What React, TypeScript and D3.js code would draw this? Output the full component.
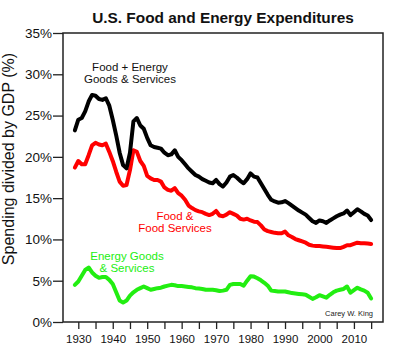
import { useEffect, useRef } from 'react';
import * as d3 from 'd3';

// ==========================================
// DATA (share of GDP, %)
// ==========================================
const years = d3.range(1929, 2016);

const foodEnergy = [
  23.2, 24.5, 24.7, 25.5, 26.7, 27.5, 27.4, 27.0, 26.9, 27.1,
  26.2, 24.5, 22.6, 20.5, 19.0, 18.6, 20.5, 24.3, 24.7, 23.8,
  23.4, 22.3, 21.4, 21.2, 21.1, 21.0, 20.5, 20.2, 20.3, 20.8,
  20.0, 19.6, 19.1, 18.6, 18.2, 17.8, 17.6, 17.3, 17.1, 16.9,
  16.8, 17.2, 16.7, 16.4, 16.9, 17.6, 17.8, 17.5, 17.1, 16.8,
  17.3, 18.0, 17.6, 17.5, 16.8, 16.1, 15.4, 14.8, 14.6, 14.45,
  14.5, 14.65, 14.4, 14.1, 13.8, 13.5, 13.25, 13.0, 12.6, 12.2,
  12.0, 12.3, 12.2, 12.0, 12.3, 12.55, 12.8, 13.0, 13.15, 13.5,
  12.95, 13.3, 13.65, 13.4, 13.1, 12.9, 12.35,
];

const food = [
  18.7, 19.5, 19.1, 19.1, 20.2, 21.4, 21.7, 21.5, 21.4, 21.6,
  20.6, 19.5, 18.2, 17.0, 16.5, 16.6, 18.4, 20.8, 20.6, 19.5,
  18.9, 17.7, 17.4, 17.2, 17.2, 17.0, 16.3, 16.0, 15.9, 16.2,
  15.6, 15.3, 14.8, 14.1, 13.8, 13.55, 13.4, 13.3, 13.1, 12.95,
  13.1, 13.45, 12.9, 12.8, 13.0, 13.3, 13.1, 12.9, 12.5, 12.4,
  12.5, 12.3, 12.15, 12.1, 11.7, 11.2, 11.0, 10.9, 10.8, 10.75,
  10.75, 10.95, 10.5, 10.3, 10.05, 9.9, 9.75, 9.6, 9.35, 9.25,
  9.2, 9.2, 9.15, 9.1, 9.05, 9.0, 8.95, 8.95, 9.1, 9.3,
  9.3, 9.45, 9.6, 9.55, 9.55, 9.5, 9.45,
];

const energy = [
  4.5, 4.9, 5.6, 6.3, 6.6, 6.0, 5.6, 5.35, 5.45, 5.45,
  5.1, 4.6, 3.6, 2.6, 2.35, 2.6, 3.2, 3.6, 3.9, 4.1,
  4.3, 4.1, 3.9, 4.0, 4.1, 4.15, 4.3, 4.4, 4.5, 4.45,
  4.35, 4.35, 4.3, 4.25, 4.2, 4.1, 4.05, 4.0, 3.9, 3.9,
  3.9, 3.85, 3.75, 3.8, 3.9, 4.5, 4.6, 4.6, 4.6, 4.4,
  5.0, 5.55, 5.5, 5.3, 5.05, 4.75, 4.4, 3.8, 3.75, 3.7,
  3.7, 3.7, 3.6, 3.5, 3.45, 3.4, 3.35, 3.3, 3.05, 2.8,
  3.0, 3.25, 3.1, 2.95, 3.3, 3.6, 3.8, 3.9, 4.0, 4.3,
  3.55, 3.85, 4.15, 3.95, 3.8, 3.55, 2.85,
];

const xTicks = d3.range(1930, 2016, 5);
const xLabels = d3.range(1930, 2011, 10);
const yTicks = [0, 5, 10, 15, 20, 25, 30, 35];

const App = () => {
  const svgRef = useRef<SVGSVGElement>(null);

  useEffect(() => {
    const width = 400;
    const height = 350;
    const margin = { top: 33, right: 17, bottom: 28, left: 63 };

    const svg = d3.select(svgRef.current);
    svg.selectAll('*').remove();
    svg.attr('width', width).attr('height', height);

    const font = 'Liberation Sans, Arial, Helvetica, sans-serif';

    // ==========================================
    // SCALES
    // ==========================================
    const x = d3
      .scaleLinear()
      .domain([1929 - 3.44, 2015 + 3.44])
      .range([margin.left, width - margin.right]);

    const y = d3
      .scaleLinear()
      .domain([0, 35])
      .range([height - margin.bottom, margin.top]);

    // ==========================================
    // AXES
    // ==========================================
    const xAxis = svg
      .append('g')
      .attr('transform', `translate(0,${height - margin.bottom})`)
      .call(
        d3
          .axisBottom(x)
          .tickValues(xTicks)
          .tickSize(7)
          .tickFormat((d) => (xLabels.includes(+d) ? String(d) : ''))
      );
    xAxis.select('.domain').remove();
    xAxis.selectAll('line').attr('stroke', '#222').attr('stroke-width', 1.3);
    xAxis
      .selectAll('text')
      .attr('fill', '#111')
      .attr('font-family', font)
      .attr('font-size', 11.5)
      .attr('dy', '0.95em');

    const yAxis = svg
      .append('g')
      .attr('transform', `translate(${margin.left},0)`)
      .call(
        d3
          .axisLeft(y)
          .tickValues(yTicks)
          .tickSize(10)
          .tickFormat((d) => `${d}%`)
      );
    yAxis.select('.domain').remove();
    yAxis.selectAll('line').attr('stroke', '#222').attr('stroke-width', 1.3);
    yAxis
      .selectAll('text')
      .attr('fill', '#111')
      .attr('font-family', font)
      .attr('font-size', 13.5)
      .attr('x', -11);

    // plot frame
    svg
      .append('rect')
      .attr('x', margin.left)
      .attr('y', margin.top)
      .attr('width', width - margin.left - margin.right)
      .attr('height', height - margin.top - margin.bottom)
      .attr('fill', 'none')
      .attr('stroke', '#222')
      .attr('stroke-width', 1.5);

    // ==========================================
    // LINES
    // ==========================================
    const line = d3
      .line<number>()
      .x((_, i) => x(years[i]))
      .y((d) => y(d));

    const series = [
      { values: energy, color: '#22ee11' },
      { values: food, color: '#ff0000' },
      { values: foodEnergy, color: '#000000' },
    ];

    series.forEach((s) => {
      svg
        .append('path')
        .attr('d', line(s.values))
        .attr('fill', 'none')
        .attr('stroke', s.color)
        .attr('stroke-width', 4)
        .attr('stroke-linejoin', 'round')
        .attr('stroke-linecap', 'round');
    });

    // ==========================================
    // TEXT
    // ==========================================
    svg
      .append('text')
      .attr('x', 223)
      .attr('y', 23)
      .attr('text-anchor', 'middle')
      .attr('font-family', font)
      .attr('font-weight', 'bold')
      .attr('font-size', 15.4)
      .attr('fill', '#111')
      .text('U.S. Food and Energy Expenditures');

    svg
      .append('text')
      .attr('transform', `translate(14,159) rotate(-90)`)
      .attr('text-anchor', 'middle')
      .attr('font-family', font)
      .attr('font-size', 16)
      .attr('fill', '#111')
      .text('Spending divided by GDP (%)');

    const labels = [
      { lines: ['Food + Energy', 'Goods & Services'], cx: 130, cy: 71, color: '#111' },
      { lines: ['Food &', 'Food Services'], cx: 175, cy: 220, color: '#ff0000' },
      { lines: ['Energy Goods', '& Services'], cx: 127, cy: 260, color: '#22ee11' },
    ];

    labels.forEach((l) => {
      const t = svg
        .append('text')
        .attr('text-anchor', 'middle')
        .attr('font-family', font)
        .attr('font-size', 11.5)
        .attr('fill', l.color);
      l.lines.forEach((str, i) => {
        t.append('tspan')
          .attr('x', l.cx)
          .attr('y', l.cy + i * 11.5)
          .text(str);
      });
    });

    svg
      .append('text')
      .attr('x', 373)
      .attr('y', 316)
      .attr('text-anchor', 'end')
      .attr('font-family', font)
      .attr('font-size', 7.5)
      .attr('fill', '#222')
      .text('Carey W. King');
  }, []);

  return (
    <div style={{ position: 'absolute', left: 0, top: 0, background: '#fff' }}>
      <svg ref={svgRef}></svg>
    </div>
  );
};

export default App;
